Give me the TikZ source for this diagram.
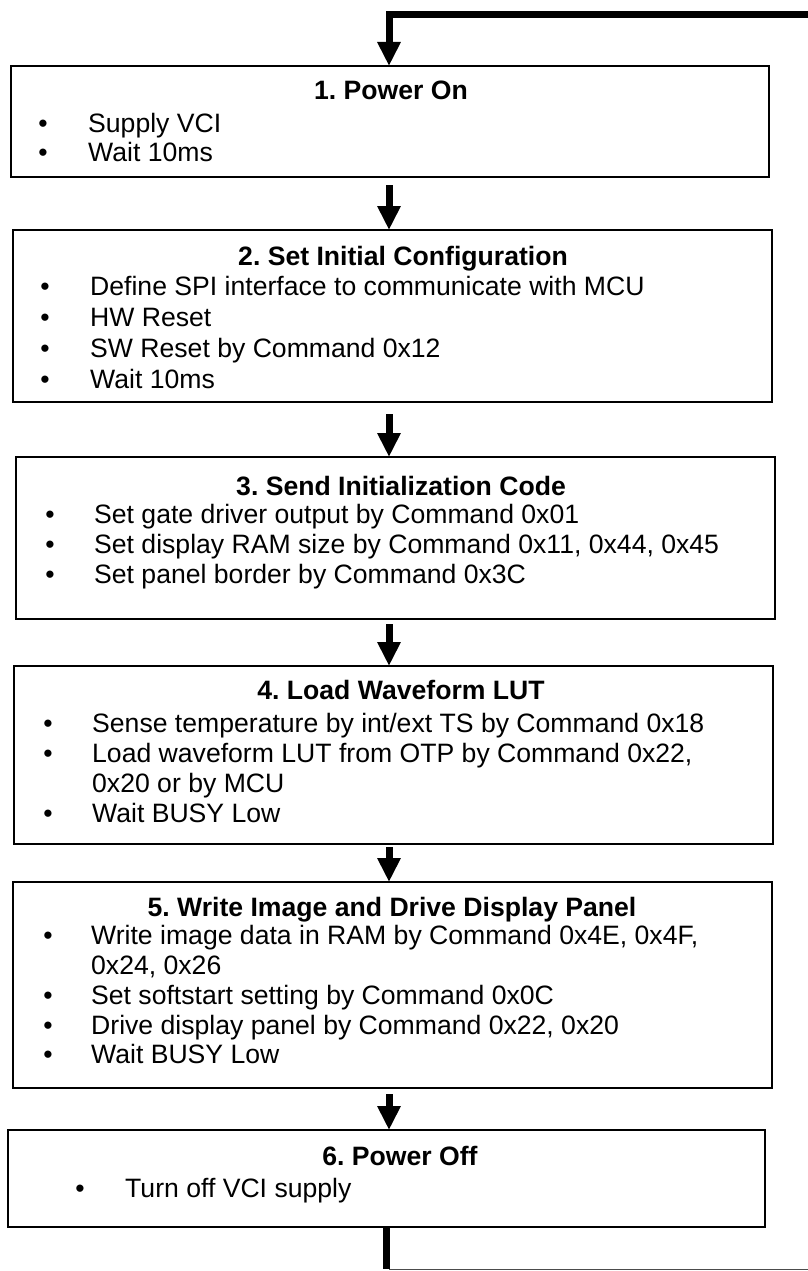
\documentclass[tikz,border=0pt]{standalone}
\usepackage{fontspec}
\setmainfont{Liberation Sans}
\usetikzlibrary{arrows.meta}
\frenchspacing
\begin{document}
\begin{tikzpicture}[x=1pt,y=-1pt,
  box/.style={draw=black, line width=2pt, anchor=north west, inner sep=0pt, outer sep=0pt},
  ttl/.style={anchor=base, inner sep=0pt, font=\fontsize{26.6}{30}\selectfont\bfseries},
  itm/.style={anchor=base west, inner sep=0pt, font=\fontsize{26.6}{30}\selectfont},
  bul/.style={anchor=base, inner sep=0pt, font=\fontsize{26.6}{30}\selectfont},
  flow/.style={line width=7pt, line join=miter, -{Triangle[length=24pt,width=22pt]}},
]
\useasboundingbox (0,0) rectangle (807,1271);
\coordinate (ax) at (389,0);
\coordinate (in) at (810,15);
\coordinate (out) at (810,1269);

% boxes
\node[box, minimum width=758pt, minimum height=111pt] (b1) at (11,66) {};
\node[box, minimum width=759pt, minimum height=172pt] (b2) at (13,230) {};
\node[box, minimum width=759pt, minimum height=162pt] (b3) at (16,457) {};
\node[box, minimum width=759pt, minimum height=178pt] (b4) at (14,666) {};
\node[box, minimum width=759pt, minimum height=206pt] (b5) at (13,882) {};
\node[box, minimum width=757pt, minimum height=97pt] (b6) at (8,1130) {};

% box 1
\node[ttl] (t1) at (391,100) {1. Power On};
\node[bul] (p11) at (43,132) {•};
\node[itm] (l11) at (88,132) {Supply VCI};
\node[bul] (p12) at (43,161) {•};
\node[itm] (l12) at (88,161) {Wait 10ms};

% box 2
\node[ttl] (t2) at (403,265) {2. Set Initial Configuration};
\node[bul] (p21) at (45,295) {•};
\node[itm] (l21) at (90,295) {Define SPI interface to communicate with MCU};
\node[bul] (p22) at (45,326) {•};
\node[itm] (l22) at (90,326) {HW Reset};
\node[bul] (p23) at (45,357) {•};
\node[itm] (l23) at (90,357) {SW Reset by Command 0x12};
\node[bul] (p24) at (45,388) {•};
\node[itm] (l24) at (90,388) {Wait 10ms};

% box 3
\node[ttl] (t3) at (401,495) {3. Send Initialization Code};
\node[bul] (p31) at (50,523) {•};
\node[itm] (l31) at (94,523) {Set gate driver output by Command 0x01};
\node[bul] (p32) at (50,553) {•};
\node[itm] (l32) at (94,553) {Set display RAM size by Command 0x11, 0x44, 0x45};
\node[bul] (p33) at (50,583) {•};
\node[itm] (l33) at (94,583) {Set panel border by Command 0x3C};

% box 4
\node[ttl] (t4) at (401,699) {4. Load Waveform LUT};
\node[bul] (p41) at (48,732) {•};
\node[itm] (l41) at (92,732) {Sense temperature by int/ext TS by Command 0x18};
\node[bul] (p42) at (48,762) {•};
\node[itm] (l42) at (92,762) {Load waveform LUT from OTP by Command 0x22,};
\node[itm] (l43) at (92,792) {0x20 or by MCU};
\node[bul] (p44) at (48,822) {•};
\node[itm] (l44) at (92,822) {Wait BUSY Low};

% box 5
\node[ttl] (t5) at (392,916) {5. Write Image and Drive Display Panel};
\node[bul] (p51) at (48,944) {•};
\node[itm] (l51) at (91,944) {Write image data in RAM by Command 0x4E, 0x4F,};
\node[itm] (l52) at (91,974) {0x24, 0x26};
\node[bul] (p53) at (48,1004) {•};
\node[itm] (l53) at (91,1004) {Set softstart setting by Command 0x0C};
\node[bul] (p54) at (48,1034) {•};
\node[itm] (l54) at (91,1034) {Drive display panel by Command 0x22, 0x20};
\node[bul] (p55) at (48,1063) {•};
\node[itm] (l55) at (91,1063) {Wait BUSY Low};

% box 6
\node[ttl] (t6) at (400,1165) {6. Power Off};
\node[bul] (p61) at (80,1197) {•};
\node[itm] (l61) at (125,1197) {Turn off VCI supply};

% connectors
\draw[flow] (in) -| (b1.north -| ax);
\draw[flow] ([yshift=-8pt]b1.south -| ax) -- (b2.north -| ax);
\draw[flow] ([yshift=-12pt]b2.south -| ax) -- (b3.north -| ax);
\draw[flow] ([yshift=-5pt]b3.south -| ax) -- (b4.north -| ax);
\draw[flow] ([yshift=-3pt]b4.south -| ax) -- (b5.north -| ax);
\draw[flow] ([yshift=-6pt]b5.south -| ax) -- (b6.north -| ax);
\draw[line width=7pt] (b6.south -| 386,0) -- (386,1269);
\draw[line width=1pt, black!70] (389,1269) -- (out);
\end{tikzpicture}
\end{document}
